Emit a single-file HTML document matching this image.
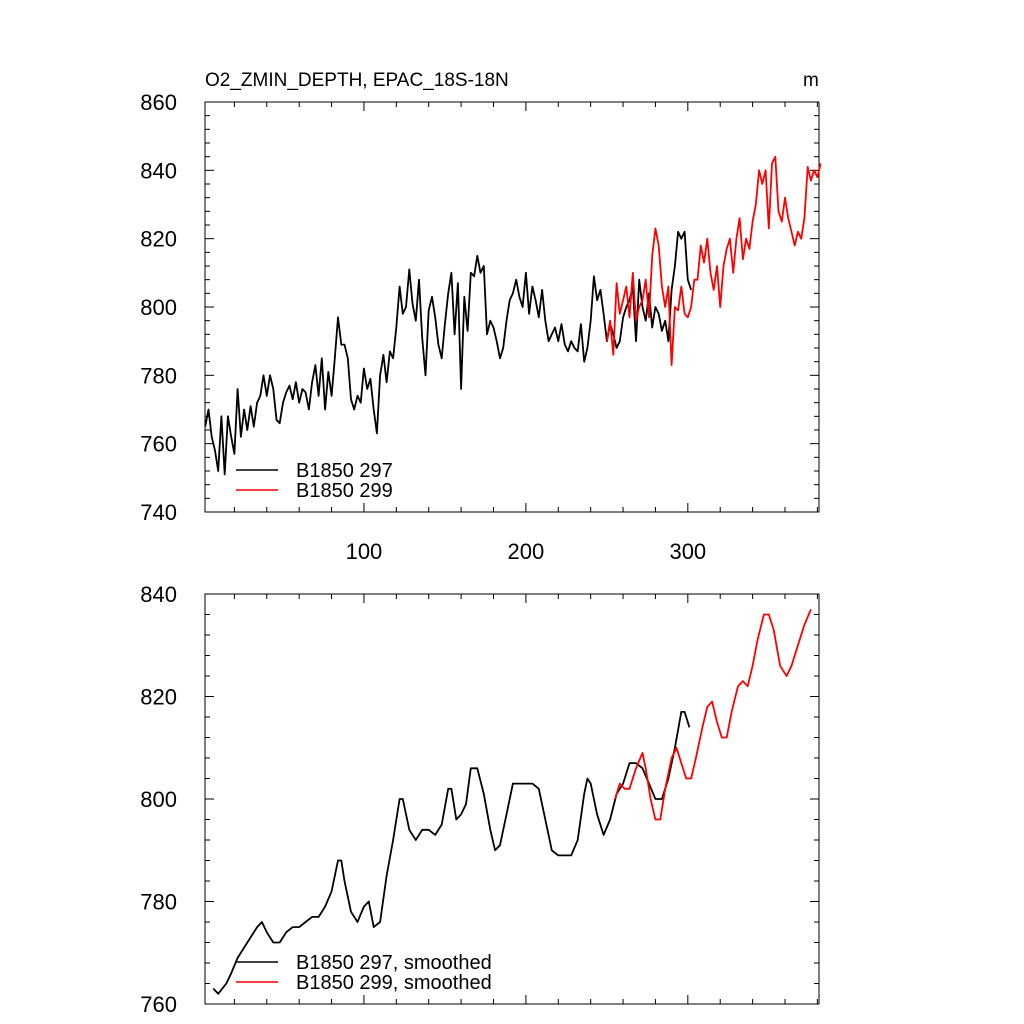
<!DOCTYPE html>
<html><head><meta charset="utf-8"><style>
html,body{margin:0;padding:0;background:#fff;}
svg{display:block;font-family:"Liberation Sans",sans-serif;}
</style></head><body>
<svg id="chart" width="1024" height="1024" viewBox="0 0 1024 1024">
<text x="205" y="86" font-size="19">O2_ZMIN_DEPTH, EPAC_18S-18N</text>
<text x="803" y="86" font-size="19">m</text>
<g id="p1"></g>
<g id="p2"></g>
</svg>
<script>
const blackX0 = 2, blackStep = 2;
const blackRaw = [765,770,762,758,752,768,751,768,762,757,776,762,770,764,771,765,772,774,780,774,780,776,767,766,772,775,777,773,778,772,776,775,770,778,783,774,785,770,781,774,785,797,789,789,785,773,770,774,772,782,776,779,770,763,780,786,778,787,785,794,806,798,800,811,801,796,808,791,780,799,803,797,789,785,795,804,810,792,807,776,803,793,810,809,815,810,812,792,796,794,790,785,788,796,802,804,808,803,800,810,798,806,802,797,805,796,790,792,794,790,795,789,787,790,788,787,795,784,788,796,809,802,805,798,790,795,792,788,790,797,800,802,806,790,808,800,796,804,794,800,798,793,796,790,805,812,822,820,822,808,805];
const redX0 = 250, redStep = 2;
const redRaw = [790,796,786,807,798,802,806,797,810,796,800,802,808,797,815,823,818,806,800,806,783,800,799,806,798,797,800,808,808,818,813,820,810,805,812,800,812,817,820,810,820,826,814,820,817,825,830,840,836,840,823,842,844,828,825,832,826,822,818,822,820,826,841,837,840,838,842];
const blackSmoothX = [7,10,15,18,22,26,30,34,37,40,44,48,52,56,60,64,68,72,76,80,84,86,88,92,96,100,103,106,110,114,118,122,124,128,132,136,140,144,148,152,154,157,160,163,166,170,174,178,181,184,188,192,196,200,204,208,212,216,220,224,228,232,236,238,240,244,248,252,256,260,264,268,272,276,280,284,288,292,296,298,301];
const blackSmoothY = [763,762,764,766,769,771,773,775,776,774,772,772,774,775,775,776,777,777,779,782,788,788,784,778,776,779,780,775,776,785,792,800,800,794,792,794,794,793,795,802,802,796,797,799,806,806,801,794,790,791,797,803,803,803,803,802,796,790,789,789,789,792,801,804,803,797,793,796,801,803,807,807,806,803,800,800,804,810,817,817,814];
const redSmoothX = [255,258,261,264,268,272,274,277,280,283,286,290,293,296,299,302,305,309,312,315,318,321,324,327,331,334,337,340,343,347,350,353,357,361,364,368,372,376];
const redSmoothY = [800,803,802,802,806,809,806,800,796,796,802,808,810,807,804,804,808,814,818,819,815,812,812,817,822,823,822,826,831,836,836,833,826,824,826,830,834,837];
const xTicks = [100,200,300];
const top_yTicks = [740,760,780,800,820,840,860];
const bot_yTicks = [760,780,800,820,840];

const NS="http://www.w3.org/2000/svg";
const L=205,R=819, XMIN=1.85, XMAX=381;
function sx(v){return L+(v-XMIN)/(XMAX-XMIN)*(R-L);}
function mk(parent,tag,attrs){const e=document.createElementNS(NS,tag);for(const k in attrs)e.setAttribute(k,attrs[k]);parent.appendChild(e);return e;}

function panel(g,T,B,ymin,ymax,yTicks,xLabels,series,legend){
  const sy=v=>B-(v-ymin)/(ymax-ymin)*(B-T);
  const frame=mk(g,'rect',{x:L,y:T,width:R-L,height:B-T,fill:'none',stroke:'#000','stroke-width':1});
  
  
  const yminor=(yTicks[1]-yTicks[0])/5;
  for(let v=ymin;v<=ymax+0.01;v+=yminor){
    const major=Math.abs(((v-ymin)/(yTicks[1]-yTicks[0]))-Math.round((v-ymin)/(yTicks[1]-yTicks[0])))<0.01;
    const len=major?9:5;
    mk(g,'line',{x1:L,x2:L+len,y1:sy(v),y2:sy(v),stroke:'#000'});
    mk(g,'line',{x1:R,x2:R-len,y1:sy(v),y2:sy(v),stroke:'#000'});
  }
  yTicks.forEach(v=>{
    const t=mk(g,'text',{x:L-28,y:sy(v)+8,'font-size':22,'text-anchor':'end'});
    t.textContent=v;
    
    
  });
  for(let v=20;v<=380;v+=20){
    const major=v%100===0; const len=major?9:5;
    mk(g,'line',{x1:sx(v),x2:sx(v),y1:B,y2:B-len,stroke:'#000'});
    mk(g,'line',{x1:sx(v),x2:sx(v),y1:T,y2:T+len,stroke:'#000'});
  }
  if(xLabels){xTicks.forEach(v=>{
    const t=mk(g,'text',{x:sx(v),y:B+47,'font-size':22,'text-anchor':'middle'});
    t.textContent=v;
    
    
  });}
  series.forEach(s=>{
    const d=s.x.map((x,i)=>(i?'L':'M')+sx(x).toFixed(1)+','+sy(s.y[i]).toFixed(1)).join('');
    const p=mk(g,'path',{d:d,fill:'none',stroke:s.c,'stroke-width':1.8,'stroke-linejoin':'round'});
    
    
  });
  legend.forEach((lg,i)=>{
    const y=lg.y;
    const ln=mk(g,'line',{x1:236,x2:278,y1:y,y2:y,stroke:lg.c,'stroke-width':1.5});
    
    
    const t=mk(g,'text',{x:296,y:y+7,'font-size':20});
    t.textContent=lg.t;
    
    
  });
}
const bx=blackRaw.map((v,i)=>blackX0+i*blackStep);
const rx=redRaw.map((v,i)=>redX0+i*redStep);
panel(document.getElementById('p1'),102,512,740,860,top_yTicks,true,
  [{x:bx,y:blackRaw,c:'#000',name:'series-b1850-297'},{x:rx,y:redRaw,c:'#f00',name:'series-b1850-299'}],
  [{y:470,c:'#000',t:'B1850 297'},{y:490,c:'#f00',t:'B1850 299'}]);
panel(document.getElementById('p2'),594,1004,760,840,bot_yTicks,false,
  [{x:blackSmoothX,y:blackSmoothY,c:'#000',name:'series-b1850-297-smoothed'},{x:redSmoothX,y:redSmoothY,c:'#f00',name:'series-b1850-299-smoothed'}],
  [{y:962,c:'#000',t:'B1850 297, smoothed'},{y:982,c:'#f00',t:'B1850 299, smoothed'}]);
</script>
</body></html>
